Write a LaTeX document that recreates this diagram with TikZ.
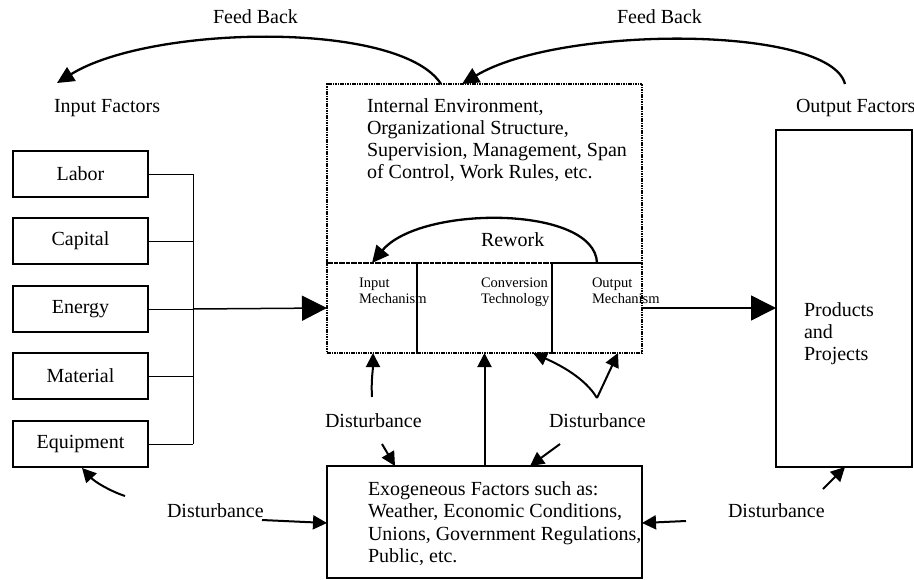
\documentclass[tikz,border=0pt]{standalone}
\usepackage{fontspec}
\setmainfont{Liberation Serif}
\usetikzlibrary{arrows.meta}
\newcommand{\mlt}[1]{\begin{tabular}[t]{@{}l@{}}#1\end{tabular}}
\begin{document}
\begin{tikzpicture}[x=1pt,y=-1pt,
 every node/.style={inner sep=0pt,outer sep=0pt},
 txt/.style={font=\fontsize{20}{22}\selectfont, anchor=base west},
 small/.style={font=\fontsize{14.5}{16.5}\selectfont, anchor=base west},
 solidbox/.style={draw, line width=1.3pt, rectangle, font=\fontsize{20}{22}\selectfont},
 dotbox/.style={draw, line width=2.4pt, dash pattern=on 1.6pt off 0.8pt, rectangle},
 bigarrow/.style={line width=1.5pt, -{Triangle[length=25pt,width=25pt]}},
 curvearrow/.style={line width=2.3pt, -{Triangle[length=17pt,width=16pt]}},
 distarrow/.style={line width=2pt, -{Triangle[length=14pt,width=14pt]}},
 bus/.style={line width=1pt}
]
\useasboundingbox (0,0) rectangle (914,579);

% input factor boxes
\node[solidbox, minimum width=135pt, minimum height=46pt] (labor) at (80.5,174) {Labor};
\node[solidbox, minimum width=135pt, minimum height=46pt] (capital) at (80.5,241) {Capital};
\node[solidbox, minimum width=135pt, minimum height=46pt] (energy) at (80.5,309) {Energy};
\node[solidbox, minimum width=135pt, minimum height=46pt] (material) at (80.5,376) {Material};
\node[solidbox, minimum width=135pt, minimum height=46pt] (equipment) at (80.5,444) {Equipment};

\coordinate (busT) at (193,174);
\coordinate (busB) at (193,444);
\coordinate (busE) at (193,309);
\draw[bus] (labor.east) -- (busT);
\draw[bus] (capital.east) -- (capital.east -| busT);
\draw[bus] (energy.east) -- (busE);
\draw[bus] (material.east) -- (material.east -| busT);
\draw[bus] (equipment.east) -- (busB);
\draw[bus] (busT) -- (busB);

% main (dotted) box
\node[dotbox, minimum width=315pt, minimum height=179pt] (env) at (484.5,173.5) {};
\node[dotbox, minimum width=90pt, minimum height=90pt] (inmech) at (372,308) {};
\node[dotbox, minimum width=135pt, minimum height=90pt] (conv) at (484.5,308) {};
\node[dotbox, minimum width=90pt, minimum height=90pt] (outmech) at (597,308) {};

\node[txt] (envtxt) at (367,112) {\mlt{Internal Environment,\\Organizational Structure,\\Supervision, Management, Span\\of Control, Work Rules, etc.}};
\node[txt] (rework) at (481,246) {Rework};
\node[small] (inmechtxt) at (359,287) {\mlt{Input\\Mechanism}};
\node[small] (convtxt) at (481,287) {\mlt{Conversion\\Technology}};
\node[small] (outmechtxt) at (592,287) {\mlt{Output\\Mechanism}};

% products box
\node[solidbox, minimum width=136pt, minimum height=337pt] (prod) at (844,298.5) {};
\node[txt] (prodtxt) at (804,316) {\mlt{Products\\and\\Projects}};

% exogenous box
\node[solidbox, minimum width=315pt, minimum height=112pt] (exo) at (484.5,522) {};
\node[font=\fontsize{20}{22.5}\selectfont, anchor=base west] (exotxt) at (368,495) {\mlt{Exogeneous Factors such as:\\Weather, Economic Conditions,\\Unions, Government Regulations,\\Public, etc.}};

% labels
\node[txt] (fbL) at (213,23) {Feed Back};
\node[txt] (fbR) at (617,23) {Feed Back};
\node[txt] (inf) at (54,112) {Input Factors};
\node[txt] (outf) at (796,112) {Output Factors};
\node[txt] (dUL) at (325,427) {Disturbance};
\node[txt] (dUR) at (549,427) {Disturbance};
\node[txt] (dLL) at (167,517) {Disturbance};
\node[txt] (dLR) at (728,517) {Disturbance};

% main flow arrows
\draw[bigarrow] (busE) -- (inmech.west);
\draw[bigarrow] (outmech.east) -- (outmech.east -| prod.west);
\draw[distarrow] (exo.north) -- (conv.south);

% feedback arrows
\coordinate (fbLs) at (441,84);
\coordinate (fbLe) at (57,83);
\draw[curvearrow] (fbLs) .. controls (400,20) and (150,25) .. (fbLe);
\coordinate (fbRs) at (845,84);
\coordinate (fbRe) at (462,84);
\draw[curvearrow] (fbRs) .. controls (830,25) and (560,25) .. (fbRe);

% rework
\coordinate (rws) at (597,263);
\coordinate (rwe) at (372,263);
\draw[curvearrow] (rws) .. controls (595,205) and (420,205) .. (rwe);

% disturbance arrows
\coordinate (d1s) at (372,397);
\coordinate (d1e) at (373,353);
\draw[distarrow] (d1s) .. controls (371,380) and (373,370) .. (d1e);
\coordinate (d2s) at (382,444);
\coordinate (d2e) at (395,466);
\draw[distarrow] (d2s) -- (d2e);
\coordinate (d3s) at (560,444);
\coordinate (d3e) at (530,466);
\draw[distarrow] (d3s) -- (d3e);
\coordinate (vtip) at (597,398);
\coordinate (v1e) at (533,353);
\coordinate (v2e) at (618,353);
\draw[distarrow] (vtip) .. controls (585,378) and (560,365) .. (v1e);
\draw[distarrow] (vtip) -- (v2e);
\coordinate (d5s) at (125,496);
\coordinate (d5e) at (82,468);
\draw[distarrow] (d5s) .. controls (110,491) and (95,482) .. (d5e);
\coordinate (d6s) at (262,520);
\coordinate (d6e) at (327,523);
\draw[distarrow] (d6s) -- (d6e);
\coordinate (d7s) at (686,521);
\coordinate (d7e) at (642,523);
\draw[distarrow] (d7s) -- (d7e);
\coordinate (d8s) at (823,489);
\coordinate (d8e) at (845,467);
\draw[distarrow] (d8s) -- (d8e);
\end{tikzpicture}
\end{document}
